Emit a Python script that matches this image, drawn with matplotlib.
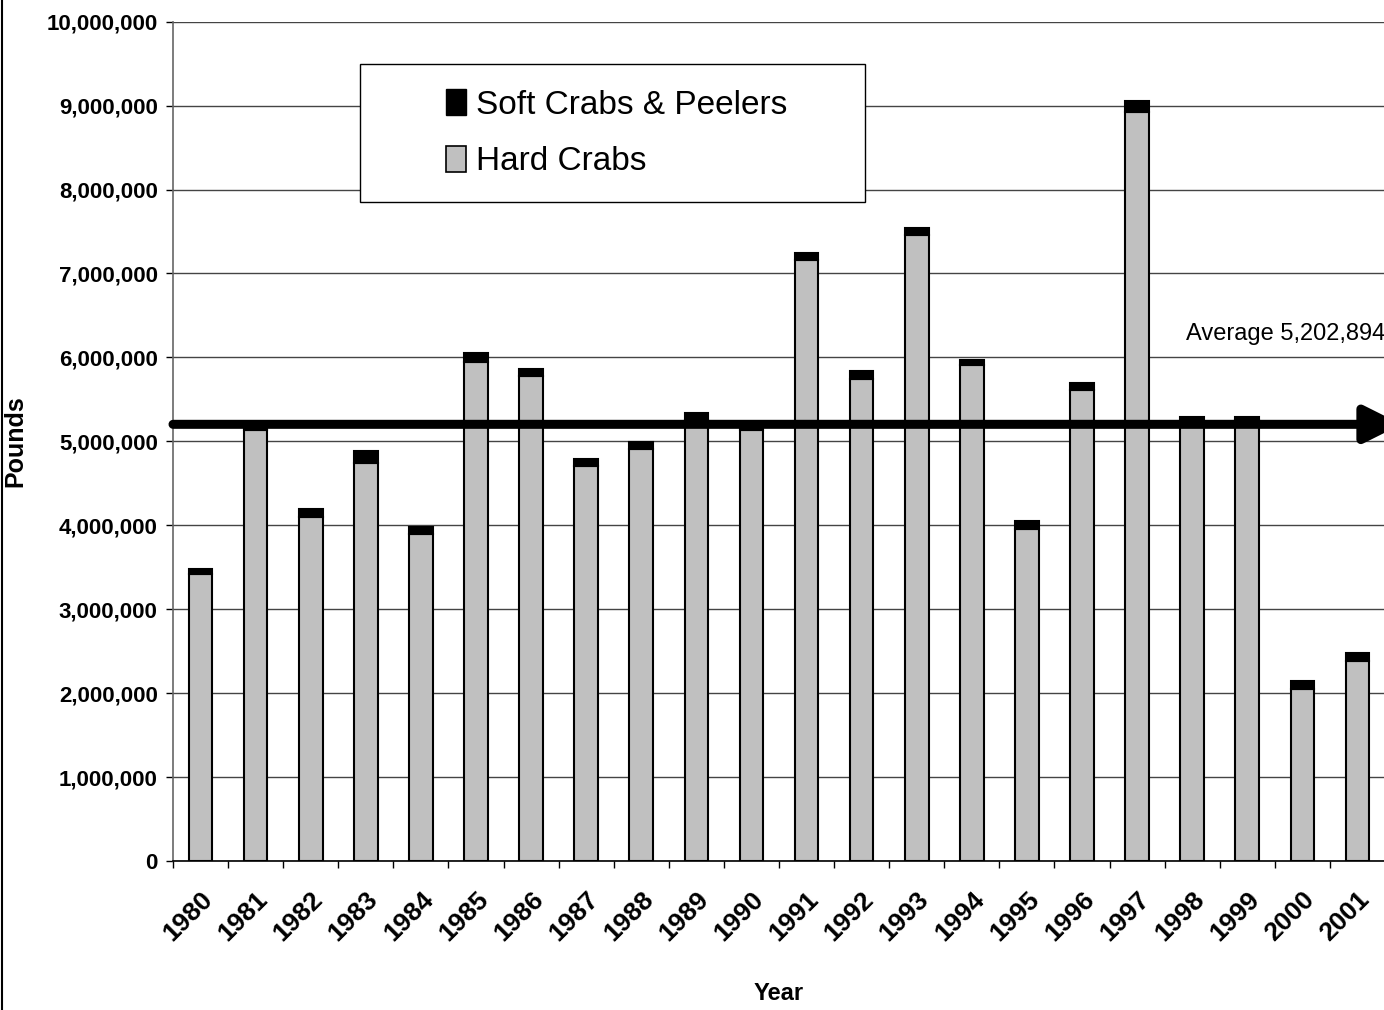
import matplotlib
matplotlib.use("Agg")
import matplotlib.pyplot as plt
from matplotlib.lines import Line2D
from matplotlib.patches import Patch, Rectangle
import matplotlib.ticker as mticker
import numpy as np

# Annual crab landings (pounds)
years = [str(y) for y in range(1980, 2002)]
hard_crabs = [3425000, 5130000, 4100000, 4740000, 3900000, 5950000, 5774000,
              4702000, 4905000, 5260000, 5140000, 7155000, 5738000, 7453000,
              5913000, 3960000, 5607000, 8930000, 5170000, 5250000, 2048000,
              2385000]
soft_crabs = [60000, 50000, 90000, 150000, 80000, 100000, 83000, 84000,
              87000, 78000, 70000, 87000, 95000, 92000, 51000, 90000, 91000,
              130000, 125000, 40000, 95000, 91000]
average = 5202894

plt.rcParams["font.family"] = ["Liberation Sans", "DejaVu Sans"]

fig = plt.figure(figsize=(13.84, 10.10), dpi=100)
ax = fig.add_axes([173 / 1384, 1 - 861 / 1010, 1212 / 1384, (861 - 21.7) / 1010])

x = np.arange(len(years))
ax.bar(x, hard_crabs, width=0.43, color="#c0c0c0", edgecolor="black",
       linewidth=1.5, zorder=3)
ax.bar(x, soft_crabs, width=0.43, bottom=hard_crabs, color="black",
       edgecolor="black", linewidth=1.5, zorder=3)

ax.set_xlim(-0.5, len(years) - 0.5)
ax.set_ylim(0, 10000000)
ax.yaxis.set_major_locator(mticker.MultipleLocator(1000000))
ax.yaxis.set_major_formatter(mticker.FuncFormatter(lambda v, p: f"{int(v):,}"))
ax.grid(axis="y", color="#444444", linewidth=1, zorder=0)
ax.set_axisbelow(True)

# tick marks sit between the categories, labels under the bars
ax.set_xticks(np.arange(-0.5, len(years), 1))
ax.set_xticklabels([])
ax.set_xticks(x, minor=True)
ax.set_xticklabels(years, minor=True, rotation=45, ha="right",
                   rotation_mode="anchor", fontsize=19, fontweight="bold")
ax.tick_params(axis="x", which="major", direction="out", length=5, width=1)
ax.tick_params(axis="x", which="minor", length=0, pad=19)
ax.tick_params(axis="y", direction="out", length=5, width=1, pad=6,
               labelsize=16)
for lbl in ax.get_yticklabels():
    lbl.set_fontweight("bold")

for side in ["top", "right"]:
    ax.spines[side].set_visible(False)
ax.spines["left"].set_color("#666666")
ax.spines["left"].set_linewidth(1.2)
ax.spines["bottom"].set_linewidth(1.2)

ax.set_xlabel("Year", fontsize=17, fontweight="bold")
ax.xaxis.set_label_coords(0.5, -(982 - 861) / (861 - 21.7))
ax.set_ylabel("Pounds", fontsize=18, fontweight="bold")
ax.yaxis.set_label_coords(-(173 - 27) / 1212, 0.5)

# average line with arrow head running off the right edge
ax.annotate("", xy=(len(years) - 0.2, average), xytext=(-0.5, average),
            xycoords="data",
            arrowprops=dict(arrowstyle="-|>,head_length=2.2,head_width=1.1",
                            lw=6.5, color="black", shrinkA=0, shrinkB=0),
            annotation_clip=False, zorder=5)
ax.annotate(f"Average {average:,}", xy=(1.0, average),
            xycoords=("axes fraction", "data"), xytext=(0, 90),
            textcoords="offset pixels", ha="right", va="center",
            fontsize=17, zorder=6)

# legend box
legend_box = Rectangle((360 / 1384, 1 - 202 / 1010), 505 / 1384, 138 / 1010,
                       transform=fig.transFigure, facecolor="white",
                       edgecolor="black", linewidth=1, zorder=6)
ax.add_artist(legend_box)
handles = [Patch(facecolor="black", edgecolor="black", linewidth=1),
           Patch(facecolor="#c0c0c0", edgecolor="black", linewidth=1.2)]
leg = ax.legend(handles, ["Soft Crabs & Peelers", "Hard Crabs"],
                loc="center", bbox_to_anchor=(617 / 1384, 1 - 133 / 1010),
                bbox_transform=fig.transFigure, frameon=False, fontsize=24,
                handlelength=0.6, handleheight=0.85, handletextpad=0.3,
                labelspacing=0.75)
leg.set_zorder(7)

# left edge of the chart frame
fig.add_artist(Line2D([0.0015, 0.0015], [0, 1], color="black", linewidth=1.5,
                      transform=fig.transFigure))

fig.savefig("out.png", dpi=100)
plt.close(fig)
